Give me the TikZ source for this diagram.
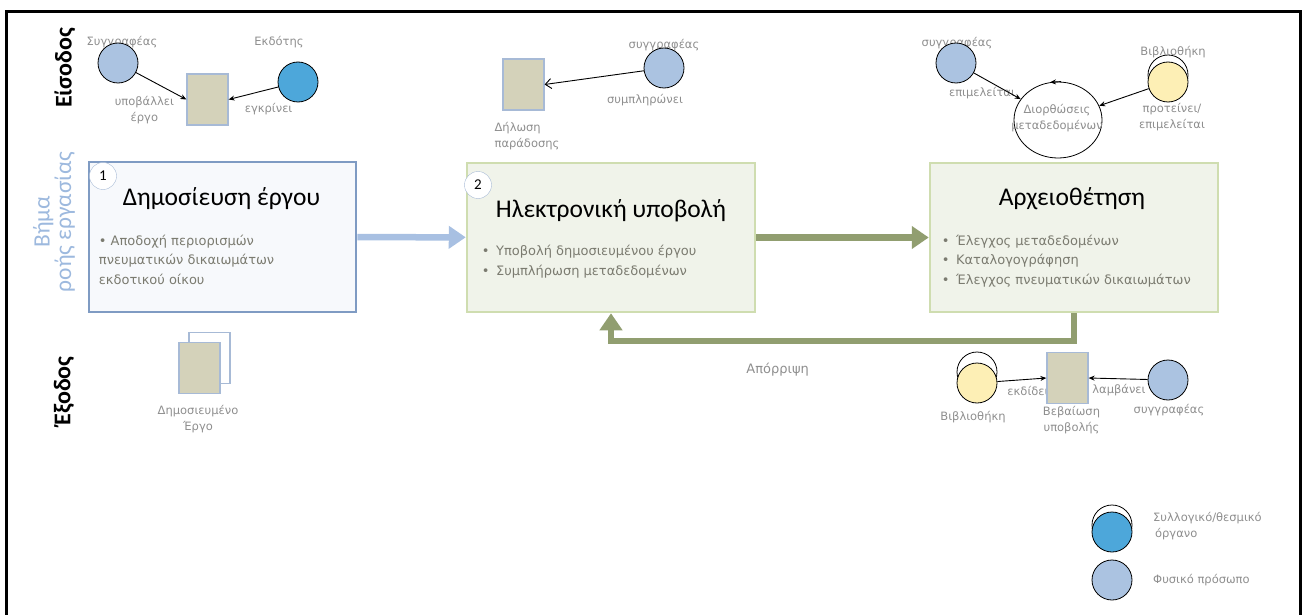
\documentclass[tikz,border=0pt]{standalone}
\usepackage{fontspec}
\setmainfont{Carlito}
\newfontfamily\labelfont{DejaVu Sans}
\usepackage{xcolor}
\usetikzlibrary{arrows.meta,calc,shapes.geometric,backgrounds}

\definecolor{personblue}{HTML}{ABC3E1}
\definecolor{orgblue}{HTML}{4DA7DA}
\definecolor{libyellow}{HTML}{FDEFB5}
\definecolor{dockhaki}{HTML}{D4D2BA}
\definecolor{docedge}{HTML}{A7BAD6}
\definecolor{labelgray}{HTML}{8E8E8E}
\definecolor{itemgray}{HTML}{7B7B70}
\definecolor{pubedge}{HTML}{7F9BC3}
\definecolor{pubfill}{HTML}{F7F9FC}
\definecolor{stepedge}{HTML}{CFDDB0}
\definecolor{stepfill}{HTML}{F0F3EA}
\definecolor{flowblue}{HTML}{A8C0E2}
\definecolor{flowgreen}{HTML}{919E70}
\definecolor{stagetext}{HTML}{9DB9DE}

\begin{document}
\begin{tikzpicture}[
    x=1pt, y=-1pt,
    font=\fontsize{12}{14}\selectfont,
    person/.style={circle, draw, line width=0.8pt, minimum size=40pt, inner sep=0pt, fill=personblue},
    org/.style={person, fill=orgblue},
    orgshadow/.style={circle, draw, line width=0.8pt, minimum size=40pt, inner sep=0pt},
    doc/.style={rectangle, draw=docedge, line width=1.2pt, fill=dockhaki, minimum width=41pt, minimum height=51pt, inner sep=0pt},
    lbl/.style={font=\labelfont\fontsize{11.5}{16}\selectfont, text=labelgray, align=center, inner sep=0pt},
    stepbox/.style={rectangle, draw=stepedge, fill=stepfill, line width=2.5pt, minimum width=288pt, minimum height=149pt},
    stepnum/.style={circle, draw=docedge, fill=white, minimum size=27pt, inner sep=0pt, font=\fontsize{15}{15}\selectfont},
    steptitle/.style={font=\fontsize{25.5}{27}\selectfont, inner sep=0pt},
    items/.style={font=\labelfont\fontsize{13}{19.5}\selectfont, text=itemgray, align=left, inner sep=0pt, anchor=north west},
    rowlabel/.style={rotate=90, font=\bfseries\fontsize{24}{24}\selectfont},
    arrow/.style={-{Stealth[length=6pt, width=5pt]}, line width=0.9pt},
    flow/.style={line width=6.5pt, -{Triangle[length=17pt, width=22pt]}}
]
    \useasboundingbox (0,0) rectangle (1306,615);
    \draw[line width=3pt] (6,615) -- (6,12) -- (1300,12) -- (1300,615);

    \node[rowlabel] (inrow) at (65,68) {Είσοδος};
    \node[rowlabel, font=\fontsize{23.5}{20}\selectfont, text=stagetext, align=center] (steprow) at (54,222) {Βήμα\\ροής εργασίας};
    \node[rowlabel] (outrow) at (64,391) {Έξοδος};

    \node[stepbox, draw=pubedge, fill=pubfill, minimum width=267pt, minimum height=150pt] (pub) at (222.5,237) {};
    \node[stepbox] (elec) at (611,237.5) {};
    \node[stepbox] (arch) at (1074,237.5) {};

    \node[stepnum] (pubnum) at (103,176) {1};
    \node[stepnum] (elecnum) at (478,185) {2};
    \node[steptitle] (pubtitle) at ($(pub.north)+(-1,38)$) {Δημοσίευση έργου};
    \node[steptitle] (electitle) at ($(elec.north)+(0,49)$) {Ηλεκτρονική υποβολή};
    \node[steptitle] (archtitle) at ($(arch.north)+(-2,37)$) {Αρχειοθέτηση};
    \node[items] (pubitems) at ($(pub.north west)+(11,74)$) {• Αποδοχή περιορισμών\\πνευματικών δικαιωμάτων\\εκδοτικού οίκου};
    \node[items, font=\labelfont\fontsize{13}{20}\selectfont] (elecitems) at ($(elec.north west)+(16,83)$) {•\enspace Υποβολή δημοσιευμένου έργου\\•\enspace Συμπλήρωση μεταδεδομένων};
    \node[items] (architems) at ($(arch.north west)+(13,73)$) {•\enspace Έλεγχος μεταδεδομένων\\•\enspace Καταλογογράφηση\\•\enspace Έλεγχος πνευματικών δικαιωμάτων};

    \draw[flow, flowblue] (pub) -- (elec);
    \draw[flow, flowgreen] (elec) -- (arch);
    \draw[flow, flowgreen, line width=6pt] (arch.south) -- ++(0,28) -| node[lbl, font=\labelfont\fontsize{13}{14}\selectfont, pos=0.32, below=19pt] (rejectlbl) {Απόρριψη} (elec.south);

    \node[doc] (subm) at (207.5,99.5) {};
    \node[doc] (decl) at (523.5,84.5) {};
    \node[doc] (cert) at (1067.5,378) {};
    \node[doc, fill=white] (pubcopy) at (209.5,358) {};
    \node[doc] (pubdoc) at (199.5,368) {};

    \node[person] (auth1) at (118,63) {};
    \node[org] (publisher) at (298,82) {};
    \node[person] (auth2) at (664,68) {};
    \node[person] (auth3) at (956,63) {};
    \node[org, fill=libyellow] (lib3) at (1168,82) {};
    \node[ellipse, draw, line width=0.8pt, fill=white, minimum width=88pt, minimum height=76pt] (corr) at (1058,120) {};
    \node[lbl] (corrlbl) at ($(corr)+(-1,-2)$) {Διορθώσεις\\μεταδεδομένων};
    \node[org, fill=libyellow] (lib4) at (977,383) {};
    \node[person] (auth4) at (1168,380) {};
    \node[org] (legorg) at (1112,532) {};
    \node[person] (legperson) at (1112,580) {};

    \draw[arrow] (auth1) -- (subm.west);
    \draw[arrow] (publisher) -- (subm.east);
    \draw[arrow, -{Straight Barb[length=6pt, width=10pt]}] (auth2) -- (decl.east);
    \draw[arrow] (auth3) -- (corr);
    \draw[arrow] (lib3) -- (corr);
    \draw[arrow] ($(corr.north)+(3,0)$) -- ($(corr.north)+(-8,0.7)$);
    \draw[arrow] (lib4) -- (cert.west);
    \draw[arrow] (auth4) -- (cert.east);

    \begin{scope}[on background layer]
        \node[orgshadow] (lib3back) at ($(lib3)+(0,-7)$) {};
        \node[orgshadow] (lib4back) at ($(lib4)+(0,-11)$) {};
        \node[orgshadow] (legorgback) at ($(legorg)+(0,-7)$) {};
        \node[lbl] (auth1lbl) at ($(auth1)+(4,-21)$) {Συγγραφέας};
        \node[lbl] (publbl) at ($(publisher)+(-19,-40)$) {Εκδότης};
        \node[lbl] (submitlbl) at ($(subm.west)+(-42,11)$) {υποβάλλει\\έργο};
        \node[lbl] (approvelbl) at ($(subm.east)+(40,9.5)$) {εγκρίνει};
        \node[lbl] (auth2lbl) at ($(auth2)+(0,-23)$) {συγγραφέας};
        \node[lbl] (filllbl) at ($(auth2)+(-19,32)$) {συμπληρώνει};
        \node[lbl, anchor=west, align=left] (decllbl) at ($(decl.south west)+(-8,26)$) {Δήλωση\\παράδοσης};
        \node[lbl] (auth3lbl) at ($(auth3)+(1,-20)$) {συγγραφέας};
        \node[lbl] (curatelbl) at ($(auth3)+(26,30)$) {επιμελείται};
        \node[lbl] (lib3lbl) at ($(lib3)+(5,-30)$) {Βιβλιοθήκη};
        \node[lbl] (proposelbl) at ($(lib3)+(4,35)$) {προτείνει/\\επιμελείται};
        \node[lbl] (issuelbl) at ($(lib4)+(51,8)$) {εκδίδει};
        \node[lbl] (receivelbl) at ($(auth4)+(-49,10)$) {λαμβάνει};
        \node[lbl] (lib4lbl) at ($(lib4)+(-4,34)$) {Βιβλιοθήκη};
        \node[lbl] (certlbl) at ($(cert)+(4,42)$) {Βεβαίωση\\υποβολής};
        \node[lbl] (auth4lbl) at ($(auth4)+(1,30)$) {συγγραφέας};
        \node[lbl] (pubdoclbl) at ($(pubdoc)+(-1.5,51)$) {Δημοσιευμένο\\Έργο};
        \node[lbl, anchor=west, align=left] (legorglbl) at ($(legorg)+(41,-6)$) {Συλλογικό/θεσμικό\\\,όργανο};
        \node[lbl, anchor=west] (legpersonlbl) at ($(legperson)+(41,0)$) {Φυσικό πρόσωπο};
    \end{scope}
\end{tikzpicture}
\end{document}
